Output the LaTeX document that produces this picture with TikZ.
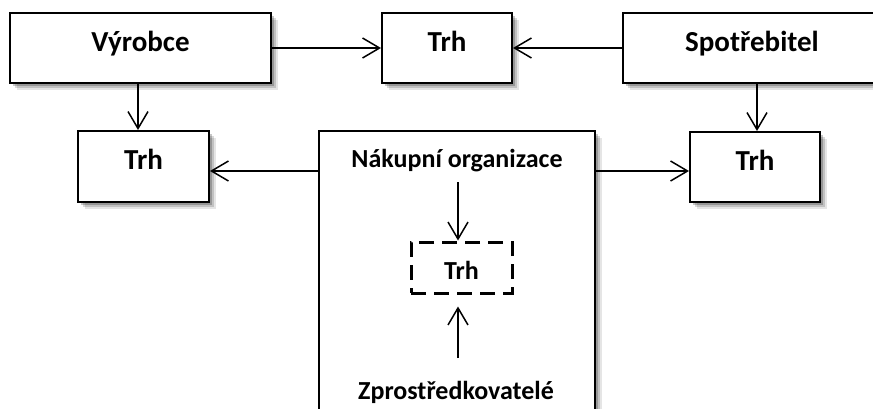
\documentclass[tikz,border=0pt]{standalone}
\usepackage{fontspec}
\setmainfont{Carlito}
\usetikzlibrary{arrows.meta,shadows}
\begin{document}
\begin{tikzpicture}[x=1pt,y=-1pt,
  box/.style={draw=black, line width=2pt, fill=white, inner sep=0pt,
    drop shadow={shadow xshift=7pt, shadow yshift=-7pt, fill=black, opacity=0.10},
    drop shadow={shadow xshift=5pt, shadow yshift=-5pt, fill=black, opacity=0.15},
    drop shadow={shadow xshift=3pt, shadow yshift=-3pt, fill=black, opacity=0.22},
    text height=20pt, text depth=13pt,
    font=\fontsize{29}{33}\selectfont\bfseries},
  dbox/.style={draw=black, line width=3pt, dash pattern=on 15pt off 8pt, inner sep=0pt,
    minimum width=101pt, minimum height=51pt, text height=23pt, text depth=0pt,
    font=\fontsize{26}{30}\selectfont\bfseries},
  lbl/.style={inner sep=0pt, font=\fontsize{26}{30}\selectfont\bfseries},
  arr/.style={line width=1.5pt, -{Straight Barb[length=17pt, width=20pt, line width=1.5pt]}}]
\useasboundingbox (0,0) rectangle (873,409);
\clip (0,0) rectangle (873,409);
\fill[white] (0,0) rectangle (873,409);
% boxes
\node[box, minimum width=261pt, minimum height=70pt] (vyr) at (140.5,48) {Výrobce};
\node[box, minimum width=130pt, minimum height=70pt] (trhT) at (447,48) {Trh};
\node[box, minimum width=261pt, minimum height=70pt] (spo) at (753.5,48) {\hspace*{-3pt}Spotřebitel};
\node[box, minimum width=131pt, minimum height=71pt] (trhL) at (143.5,166.5) {Trh};
\node[box, minimum width=130pt, minimum height=70pt] (trhR) at (755,167) {Trh};
\node[box, minimum width=276pt, minimum height=295pt] (mid) at (457,278.5) {};
% inner content
\node[lbl] (nak) at (457,161) {Nákupní organizace};
\node[dbox] (trhD) at (461.5,267.5) {Trh};
\node[lbl] (zpr) at (456,392) {Zprostředkovatelé};
\coordinate (n1) at (458,182);
\coordinate (z1) at (458,358);
% arrows
\draw[arr] (vyr.east) -- (trhT.west);
\draw[arr] (spo.west) -- (trhT.east);
\draw[arr] ([xshift=-5.5pt]trhL.north |- vyr.south) -- ([xshift=-5.5pt]trhL.north);
\draw[arr] ([xshift=2pt]trhR.north |- spo.south) -- ([xshift=2pt]trhR.north);
\draw[arr] ([yshift=-4.5pt]trhL.east -| mid.west) -- ([yshift=-4.5pt]trhL.east);
\draw[arr] ([yshift=-4pt]trhR.west -| mid.east) -- ([yshift=-4pt]trhR.west);
\draw[arr] (n1) -- (n1 |- trhD.north);
\draw[arr] (z1) -- ([yshift=-12pt]z1 |- trhD.south);
\end{tikzpicture}
\end{document}
